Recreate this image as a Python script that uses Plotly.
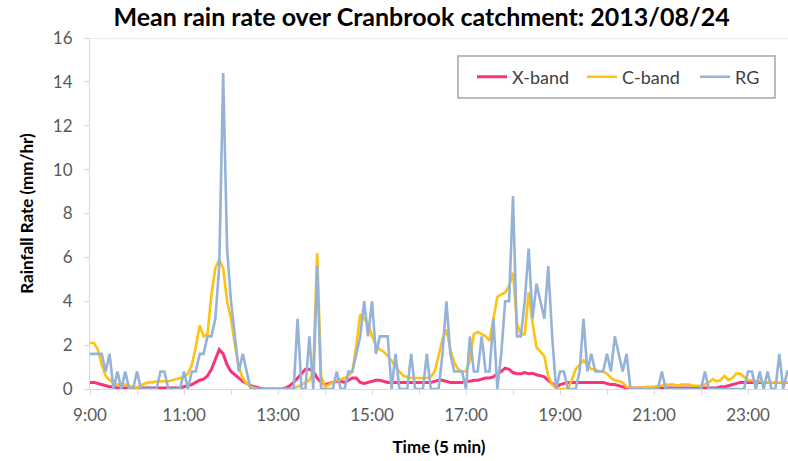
import plotly.graph_objects as go

# 5-minute steps from 9:00 to 24:00 (181 samples), one row per hour
xband = [
    0.3, 0.3, 0.25, 0.2, 0.15, 0.1, 0.1, 0.05, 0.05, 0.05, 0.05, 0.05,
    0.05, 0.05, 0.05, 0.05, 0.05, 0.05, 0.05, 0.05, 0.05, 0.05, 0.05, 0.05,
    0.1, 0.15, 0.2, 0.3, 0.4, 0.45, 0.6, 0.9, 1.4, 1.8, 1.6, 1.1,
    0.8, 0.65, 0.5, 0.35, 0.25, 0.15, 0.1, 0.05, 0, 0, 0, 0,
    0, 0, 0.05, 0.15, 0.3, 0.5, 0.75, 0.9, 0.9, 0.8, 0.5, 0.3,
    0.2, 0.25, 0.3, 0.35, 0.35, 0.3, 0.4, 0.5, 0.5, 0.3, 0.25, 0.3,
    0.35, 0.4, 0.4, 0.35, 0.3, 0.3, 0.3, 0.3, 0.3, 0.3, 0.3, 0.3,
    0.3, 0.3, 0.3, 0.3, 0.35, 0.4, 0.4, 0.35, 0.3, 0.3, 0.3, 0.3,
    0.35, 0.35, 0.4, 0.4, 0.45, 0.5, 0.5, 0.55, 0.7, 0.8, 0.95, 0.9,
    0.75, 0.7, 0.7, 0.75, 0.7, 0.72, 0.65, 0.6, 0.55, 0.4, 0.25, 0.1,
    0.2, 0.25, 0.3, 0.3, 0.3, 0.3, 0.3, 0.3, 0.3, 0.3, 0.3, 0.3,
    0.25, 0.2, 0.2, 0.15, 0.1, 0.05, 0.05, 0.05, 0.05, 0.05, 0.05, 0.05,
    0.05, 0.05, 0.05, 0.05, 0.05, 0.05, 0.05, 0.05, 0.05, 0.05, 0.05, 0.05,
    0.05, 0.05, 0.05, 0.05, 0.05, 0.1, 0.1, 0.15, 0.2, 0.25, 0.3, 0.3,
    0.3, 0.3, 0.3, 0.3, 0.3, 0.3, 0.3, 0.3, 0.3, 0.3, 0.3, 0.3,
    0.3,
]

cband = [
    2.1, 2.1, 1.8, 1.1, 0.6, 0.4, 0.3, 0.2, 0.2, 0.2, 0.15, 0.1,
    0.05, 0.15, 0.25, 0.3, 0.3, 0.35, 0.35, 0.35, 0.35, 0.4, 0.45, 0.5,
    0.55, 0.7, 1.1, 1.9, 2.9, 2.4, 2.5, 4.3, 5.5, 5.9, 5.5, 4.0,
    3.2, 2.0, 1.0, 0.5, 0.25, 0.1, 0.05, 0, 0, 0, 0, 0,
    0, 0, 0, 0, 0.05, 0.1, 0.2, 0.3, 0.4, 0.8, 6.2, 0.6,
    0.1, 0.2, 0.3, 0.4, 0.45, 0.5, 0.6, 0.8, 2.0, 3.4, 3.2, 3.0,
    2.4, 2.0, 1.8, 1.7, 1.5, 1.3, 1.0, 0.8, 0.6, 0.55, 0.5, 0.5,
    0.5, 0.5, 0.5, 0.55, 0.8, 1.5, 2.3, 2.7, 1.8, 1.2, 0.9, 0.8,
    0.8, 1.3, 2.5, 2.6, 2.5, 2.4, 2.2, 3.3, 4.2, 4.3, 4.4, 4.7,
    5.3, 3.0, 2.5, 2.5, 4.4, 3.0, 1.9, 1.7, 1.5, 0.6, 0.2, 0.05,
    0, 0, 0, 0.4, 0.9, 1.1, 1.3, 1.1, 0.9, 0.9, 0.8, 0.8,
    0.7, 0.5, 0.4, 0.35, 0.3, 0.1, 0.05, 0.05, 0.05, 0.05, 0.1, 0.1,
    0.1, 0.15, 0.15, 0.2, 0.2, 0.2, 0.15, 0.2, 0.2, 0.2, 0.15, 0.15,
    0.15, 0.2, 0.3, 0.45, 0.35, 0.4, 0.6, 0.4, 0.5, 0.7, 0.7, 0.55,
    0.4, 0.4, 0.35, 0.35, 0.3, 0.3, 0.3, 0.3, 0.3, 0.3, 0.3, 0.3,
    0.3,
]

rg = [
    1.6, 1.6, 1.6, 1.6, 0.8, 1.6, 0, 0.8, 0, 0.8, 0, 0,
    0.8, 0, 0, 0, 0, 0, 0.8, 0.8, 0, 0, 0, 0,
    0.8, 0, 0.8, 0.8, 1.6, 1.6, 2.4, 2.4, 3.2, 5.6, 14.4, 6.4,
    4.0, 2.4, 0.8, 1.6, 0.8, 0, 0, 0, 0, 0, 0, 0,
    0, 0, 0, 0, 0, 3.2, 0, 0, 2.4, 0, 5.6, 0,
    0, 0, 0, 0.8, 0, 0, 0.8, 0.8, 1.6, 2.4, 4.0, 2.4,
    4.0, 1.6, 2.4, 2.4, 2.4, 0, 1.6, 0, 0, 0, 1.6, 0,
    0, 0, 1.6, 0, 0, 0, 1.6, 4.0, 1.6, 0.8, 0.8, 0.8,
    0, 2.4, 0.8, 0.8, 2.4, 0.8, 0.8, 3.2, 0, 1.6, 4.0, 4.0,
    8.8, 2.4, 2.4, 4.0, 6.4, 3.2, 4.8, 4.0, 3.2, 5.6, 2.4, 0,
    0.8, 0.8, 0, 0, 0, 0.8, 3.2, 0.8, 1.6, 0.8, 0.8, 0.8,
    1.6, 0.8, 2.4, 1.6, 0.8, 1.6, 0, 0, 0, 0, 0, 0,
    0, 0, 0.8, 0, 0, 0, 0, 0, 0, 0, 0, 0,
    0, 0.8, 0, 0, 0, 0, 0, 0, 0, 0, 0, 0,
    0.8, 0.8, 0, 0.8, 0, 0.8, 0, 0, 1.6, 0, 0.8, 0.8,
    0,
]

series_names = ["X-band", "C-band", "RG"]
tick_hours = [9, 11, 13, 15, 17, 19, 21, 23]
tick_labels = ["9:00", "11:00", "13:00", "15:00", "17:00", "19:00", "21:00", "23:00"]
y_ticks = [0, 2, 4, 6, 8, 10, 12, 14, 16]

hours = [9 + i / 12 for i in range(len(rg))]

colors = ["#F7347A", "#FFC20E", "#95B3D7"]
widths = [3, 2.6, 2.6]
legend_ids = ["legend", "legend2", "legend3"]

fig = go.Figure()
for name, vals, c, w, lg in zip(series_names, [xband, cband, rg], colors, widths, legend_ids):
    fig.add_trace(go.Scatter(x=hours, y=vals, mode="lines", name=name, legend=lg,
                             line=dict(color=c, width=w)))

FONT = "Lato, 'Open Sans', sans-serif"
PLOT_L, PLOT_W, PLOT_T, PLOT_H = 90, 698, 38, 351


def px_x(p):
    return (p - PLOT_L) / PLOT_W


def px_y(p):
    return (PLOT_T + PLOT_H - p) / PLOT_H


leg_common = dict(orientation="h", yanchor="middle", xanchor="left",
                  borderwidth=0, bgcolor="rgba(0,0,0,0)",
                  font=dict(family=FONT, size=18, color="#404040"),
                  itemwidth=30)

fig.update_layout(
    width=788, height=461,
    margin=dict(l=PLOT_L, r=0, t=PLOT_T, b=72, autoexpand=False),
    paper_bgcolor="white", plot_bgcolor="white",
    font=dict(family=FONT, size=16, color="#595959"),
    title=dict(text="<b>Mean rain rate over Cranbrook catchment: 2013/08/24</b>",
               x=0.535, xanchor="center", y=0.963, yanchor="middle",
               font=dict(family=FONT, size=25, color="#000000")),
    showlegend=True,
    legend=dict(x=px_x(472), y=px_y(77), **leg_common),
    legend2=dict(x=px_x(582), y=px_y(77), **leg_common),
    legend3=dict(x=px_x(695), y=px_y(77), **leg_common),
    xaxis=dict(range=[9, 9 + PLOT_W / 47], tickvals=tick_hours, ticktext=tick_labels,
               automargin=False,
               showgrid=False, zeroline=False, showline=True, linecolor="#D9D9D9",
               linewidth=1, ticks="outside", ticklen=5, tickcolor="#D9D9D9",
               ticklabelstandoff=6,
               tickfont=dict(family=FONT, size=17, color="#595959"),
               minor=dict(dtick=1, tick0=9, ticks="outside", ticklen=5,
                          tickcolor="#D9D9D9", showgrid=False),
               title=dict(text="<b>Time (5 min)</b>", standoff=16,
                          font=dict(family=FONT, size=17, color="#000000"))),
    yaxis=dict(range=[0, 16], tickvals=y_ticks, showgrid=False, zeroline=False,
               automargin=False,
               showline=True, linecolor="#D9D9D9", linewidth=1, ticks="outside",
               ticklen=5, tickcolor="#D9D9D9", ticklabelstandoff=8,
               tickfont=dict(family=FONT, size=17, color="#595959"),
               title=dict(text="<b>Rainfall Rate (mm/hr)</b>", standoff=14,
                          font=dict(family=FONT, size=17, color="#000000"))),
)
fig.add_shape(type="line", xref="paper", yref="y", x0=0, x1=1, y0=16, y1=16,
              line=dict(color="#D9D9D9", width=1))
# legend frame
fig.add_shape(type="rect", xref="paper", yref="paper",
              x0=px_x(458), x1=px_x(775), y0=px_y(98), y1=px_y(56),
              line=dict(color="#A6A6A6", width=1.5), fillcolor="white", layer="above")

fig.write_html("out.html")
